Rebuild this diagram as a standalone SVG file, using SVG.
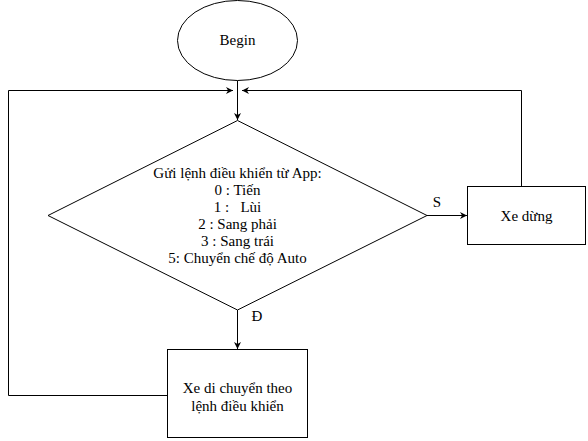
<svg xmlns="http://www.w3.org/2000/svg" width="588" height="441" viewBox="0 0 588 441">
<style>
.s{fill:#fff;stroke:#000;stroke-width:1}
.l{fill:none;stroke:#000;stroke-width:1}
.t{font-family:'Liberation Serif','Times New Roman','DejaVu Serif',serif;font-size:15px;fill:#000;text-anchor:middle;white-space:pre}
</style>
<defs>
<marker id="a" viewBox="0 0 10 10" refX="10" refY="5" markerWidth="7" markerHeight="7" orient="auto" markerUnits="userSpaceOnUse">
<path d="M0,0 L10,5 L0,10 L3,5 z" fill="#000"/>
</marker>
</defs>
<g id="connectors">
<path class="l" d="M237.5,80.5 V120" marker-end="url(#a)"/>
<path class="l" d="M167,395.5 H8.5 V90.5 H233" marker-end="url(#a)"/>
<path class="l" d="M521.5,186 V90.5 H242" marker-end="url(#a)"/>
<path class="l" d="M427,215.5 H467" marker-end="url(#a)"/>
<path class="l" d="M237.5,310 V349" marker-end="url(#a)"/>
<text class="t" x="437" y="207">S</text>
<text class="t" x="257" y="321">Đ</text>
</g>
<g id="begin">
<ellipse class="s" cx="237.5" cy="40.5" rx="60" ry="40"/>
<text class="t" x="237.5" y="45">Begin</text>
</g>
<g id="decision">
<path class="s" d="M237.5,120.5 L427,215.5 L237.5,310 L48,215.5 z"/>
<text class="t" x="237.5" y="177.5">Gửi lệnh điều khiển từ App:</text>
<text class="t" x="237.5" y="194.5">0 : Tiến</text>
<text class="t" x="237.5" y="211.5">1 :   Lùi</text>
<text class="t" x="237.5" y="228.5">2 : Sang phải</text>
<text class="t" x="237.5" y="245.5">3 : Sang trái</text>
<text class="t" x="237.5" y="262.5">5: Chuyển chế độ Auto</text>
</g>
<g id="stop">
<rect class="s" x="467.5" y="186.5" width="118" height="58"/>
<text class="t" x="526.5" y="221">Xe dừng</text>
</g>
<g id="move">
<rect class="s" x="167.5" y="349.5" width="140" height="88"/>
<text class="t" x="237.5" y="393">Xe di chuyển theo</text>
<text class="t" x="237.5" y="411">lệnh điều khiển</text>
</g>
</svg>
